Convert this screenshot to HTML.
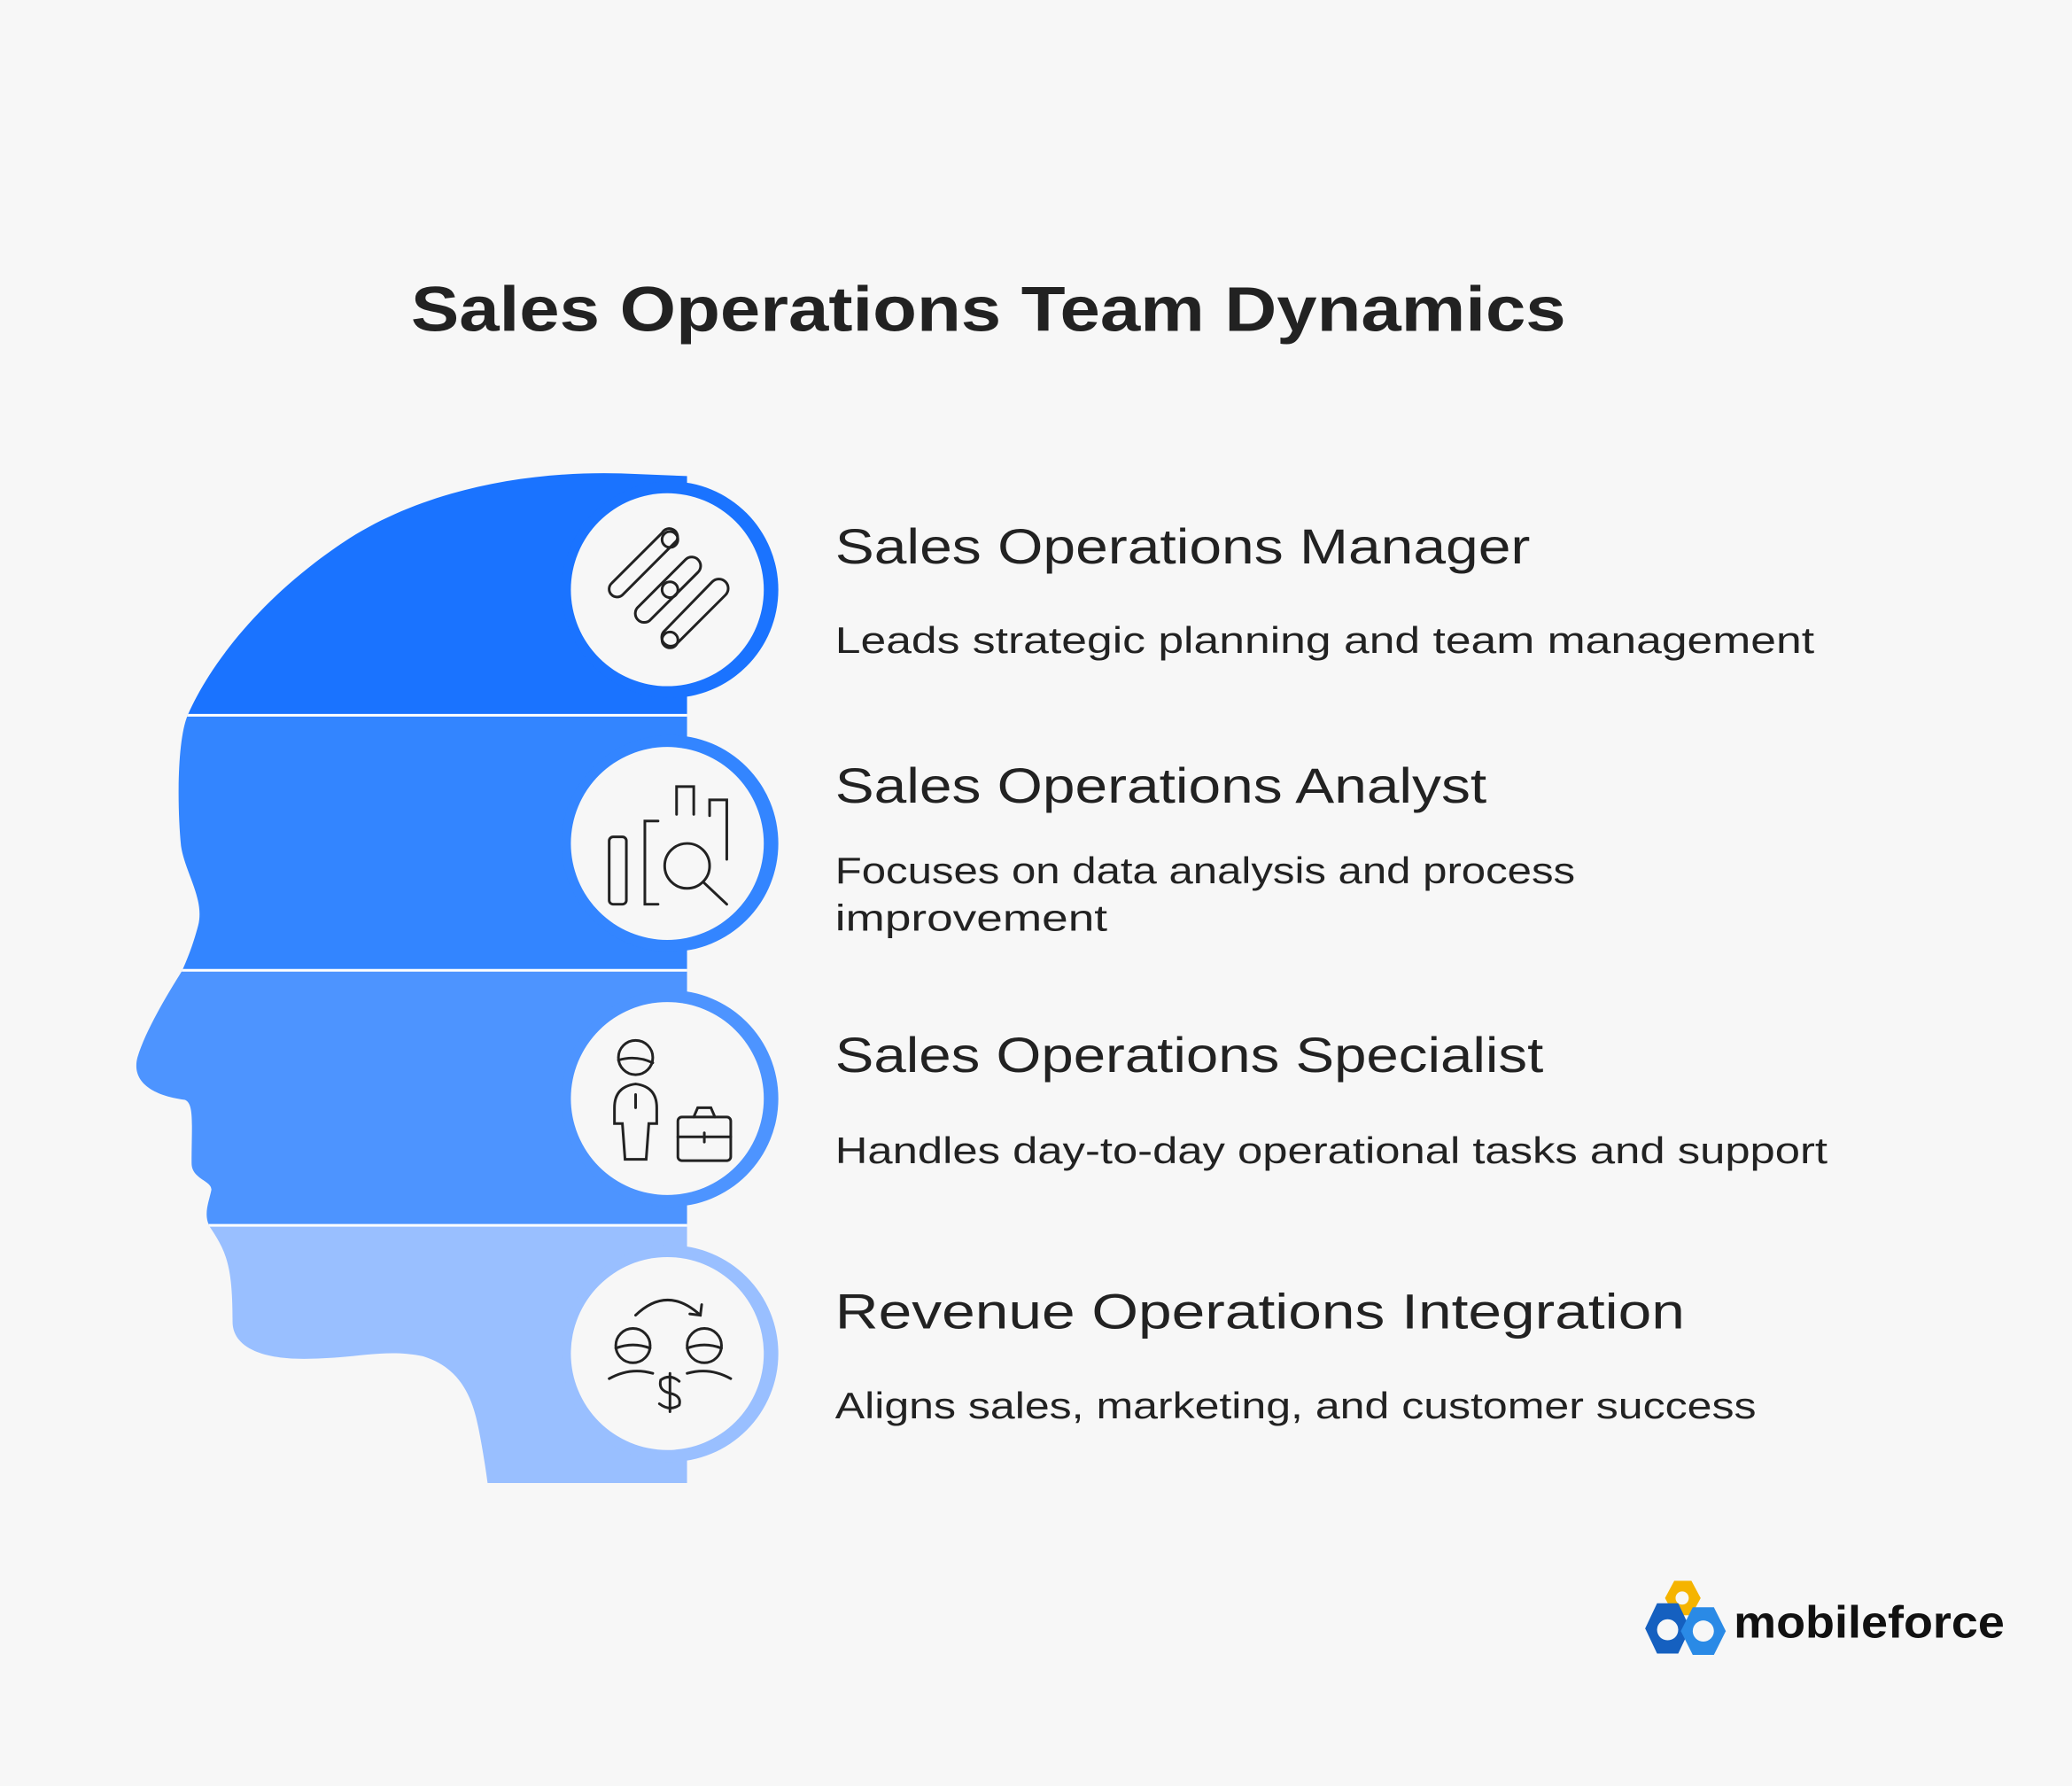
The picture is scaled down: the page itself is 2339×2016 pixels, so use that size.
<!DOCTYPE html>
<html><head><meta charset="utf-8"><style>html,body{margin:0;padding:0;background:#f7f7f7}svg{display:block}</style></head>
<body>
<svg width="2339" height="2016" viewBox="0 0 1568 1351" xmlns="http://www.w3.org/2000/svg" font-family="Liberation Sans, sans-serif">
<rect width="1568" height="1351" fill="#f7f7f7"/>
<defs>
<clipPath id="head"><path d="M520,360 L470,358 C400,356 320,370 260,410 C200,450 160,500 142,541 C134,560 134,610 137,640 C140,660 155,680 150,700 C146,715 142,725 138,734 C125,755 110,780 104,800 C100,815 110,828 140,832 C147,835 145,850 145,880 C145,892 160,893 160,900 C158,910 153,920 160,930 C172,948 176,960 176,1000 C176,1015 190,1028 230,1028 C270,1028 290,1020 320,1026 C350,1035 358,1060 362,1080 C366,1100 368,1115 369,1122 L520,1122 Z"/></clipPath>
</defs>
<g clip-path="url(#head)">
<rect x="0" y="340" width="600" height="201" fill="#1a73ff"/>
<rect x="0" y="541" width="600" height="193" fill="#3385ff"/>
<rect x="0" y="734" width="600" height="193" fill="#4d94ff"/>
<rect x="0" y="927" width="600" height="200" fill="#99bfff"/>
<g stroke="#fff" stroke-width="2"><line x1="0" y1="541" x2="520" y2="541"/><line x1="0" y1="734" x2="520" y2="734"/><line x1="0" y1="927" x2="520" y2="927"/></g>
</g>
<circle cx="507" cy="446" r="82" fill="#1a73ff"/><circle cx="505" cy="446" r="73" fill="#f7f7f7"/>
<circle cx="507" cy="638" r="82" fill="#3385ff"/><circle cx="505" cy="638" r="73" fill="#f7f7f7"/>
<circle cx="507" cy="831" r="82" fill="#4d94ff"/><circle cx="505" cy="831" r="73" fill="#f7f7f7"/>
<circle cx="507" cy="1024" r="82" fill="#99bfff"/><circle cx="505" cy="1024" r="73" fill="#f7f7f7"/>
<g fill="none" stroke="#222" stroke-width="2" stroke-linecap="round">
<path d="M501,403 L463,441 A6,6 0 0 0 471,450 L512,409 A6,6 0 0 0 501,403 Z"/>
<path d="M519,423 L483,459 A6,6 0 0 0 492,469 L528,433 A6,6 0 0 0 519,423 Z"/>
<path d="M539,440 L503,477 A6,6 0 0 0 512,487 L549,450 A6,6 0 0 0 539,440 Z"/>
<circle cx="507" cy="408" r="6"/><circle cx="507" cy="446" r="6"/><circle cx="507" cy="484" r="6"/>
<rect x="461" y="633" width="13" height="51" rx="3"/>
<path d="M498,621 L488,621 L488,684 L498,684"/>
<path d="M512,616 L512,595 L525,595 L525,616"/>
<path d="M537,617 L537,605 L550,605 L550,650"/>
<circle cx="520" cy="655" r="17"/><line x1="533" y1="668" x2="550" y2="684"/>
<circle cx="481" cy="800" r="13"/><path d="M468,802 Q481,798 494,804"/>
<path d="M465,838 Q465,822 481,820 Q497,822 497,838 L497,850 L491,850 L489,877 L473,877 L471,850 L465,850 Z"/>
<line x1="481" y1="828" x2="481" y2="838"/>
<rect x="513" y="845" width="40" height="33" rx="3"/><path d="M525,845 L528,838 L538,838 L541,845"/>
<line x1="513" y1="860" x2="553" y2="860"/><line x1="533" y1="857" x2="533" y2="864"/>
<path d="M481,995 Q505,972 530,995"/><path d="M522,994 L530,995 L531,987"/>
<circle cx="479" cy="1018" r="13"/><path d="M466,1020 Q479,1015 492,1020"/>
<circle cx="533" cy="1018" r="13"/><path d="M520,1020 Q533,1015 546,1020"/>
<path d="M461,1043 Q477,1034 494,1039"/><path d="M520,1039 Q537,1034 553,1043"/>
<path d="M514,1045 Q507,1039 500,1044 Q498,1052 507,1054 Q516,1056 514,1063 Q507,1068 499,1062"/><line x1="507" y1="1039" x2="507" y2="1068"/>
</g>
<text x="748" y="250" text-anchor="middle" font-size="48" font-weight="bold" fill="#222" textLength="874" lengthAdjust="spacingAndGlyphs">Sales Operations Team Dynamics</text>
<g fill="#222">
<text x="632" y="426" font-size="37" textLength="526" lengthAdjust="spacingAndGlyphs">Sales Operations Manager</text>
<text x="632" y="494" font-size="28" textLength="741" lengthAdjust="spacingAndGlyphs">Leads strategic planning and team management</text>
<text x="632" y="607" font-size="37" textLength="493" lengthAdjust="spacingAndGlyphs">Sales Operations Analyst</text>
<text x="632" y="668" font-size="28" textLength="560" lengthAdjust="spacingAndGlyphs">Focuses on data analysis and process</text>
<text x="632" y="704" font-size="28" textLength="206" lengthAdjust="spacingAndGlyphs">improvement</text>
<text x="632" y="811" font-size="37" textLength="536" lengthAdjust="spacingAndGlyphs">Sales Operations Specialist</text>
<text x="632" y="880" font-size="28" textLength="751" lengthAdjust="spacingAndGlyphs">Handles day-to-day operational tasks and support</text>
<text x="632" y="1005" font-size="37" textLength="643" lengthAdjust="spacingAndGlyphs">Revenue Operations Integration</text>
<text x="632" y="1073" font-size="28" textLength="697" lengthAdjust="spacingAndGlyphs">Aligns sales, marketing, and customer success</text>
</g>
<polygon points="1267,1196 1280,1196 1287,1209 1280,1222 1267,1222 1260,1209" fill="#f5b400"/>
<circle cx="1273" cy="1209" r="5" fill="#f7f7f7"/>
<polygon points="1254,1213 1270,1213 1279,1232 1270,1251 1254,1251 1245,1232" fill="#1560c0"/>
<circle cx="1262" cy="1233" r="8" fill="#f7f7f7"/>
<polygon points="1281,1216 1297,1216 1306,1234 1297,1252 1281,1252 1272,1234" fill="#2a8ae6"/>
<circle cx="1289" cy="1234" r="8" fill="#f7f7f7"/>
<text x="1312" y="1239" font-size="34" font-weight="bold" fill="#111" textLength="205" lengthAdjust="spacingAndGlyphs">mobileforce</text>
</svg>
</body></html>
